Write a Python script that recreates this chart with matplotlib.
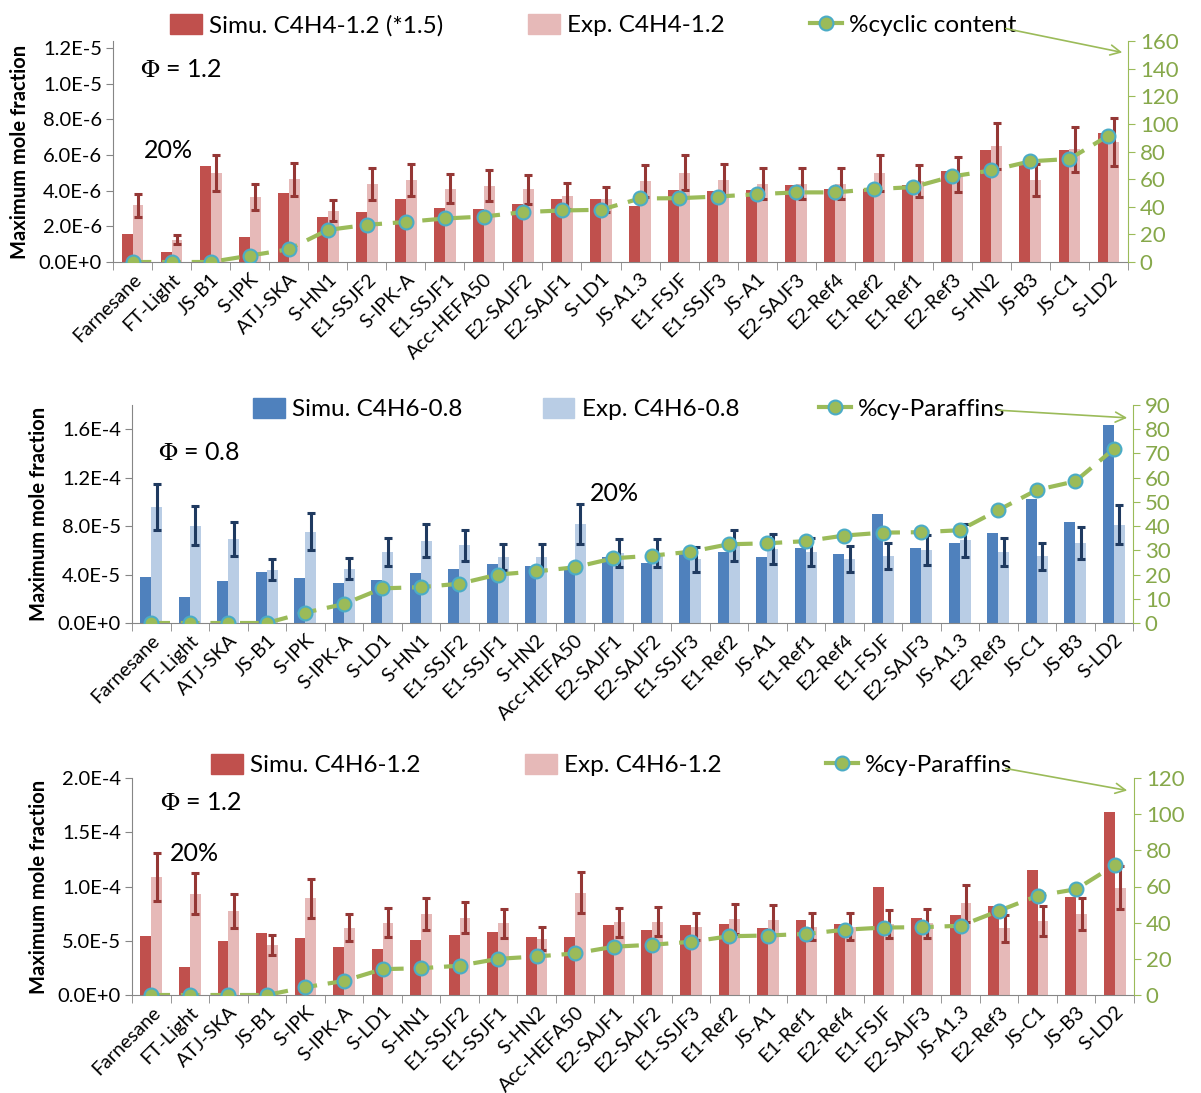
import math
import numpy as np
import matplotlib
matplotlib.use("Agg")
import matplotlib.pyplot as plt
from matplotlib.patches import Patch
from matplotlib.lines import Line2D
from matplotlib.ticker import FuncFormatter

plt.rcParams['font.family'] = ['Lato', 'DejaVu Sans']
plt.rcParams['mathtext.fontset'] = 'stix'

# fuel order, C4H4 panel
fuels_c4h4 = ["Farnesane", "FT-Light", "JS-B1", "S-IPK", "ATJ-SKA", "S-HN1", "E1-SSJF2",
              "S-IPK-A", "E1-SSJF1", "Acc-HEFA50", "E2-SAJF2", "E2-SAJF1", "S-LD1",
              "JS-A1.3", "E1-FSJF", "E1-SSJF3", "JS-A1", "E2-SAJF3", "E2-Ref4", "E1-Ref2",
              "E1-Ref1", "E2-Ref3", "S-HN2", "JS-B3", "JS-C1", "S-LD2"]
sim_c4h4 = np.array([1.57, 0.58, 5.38, 1.40, 3.85, 2.51, 2.81, 3.53, 3.02, 3.00, 3.28, 3.51, 3.51,
                     3.17, 4.04, 3.98, 4.04, 4.30, 4.08, 4.08, 4.34, 5.08, 6.26, 5.62, 6.26, 7.25]) * 1e-6
exp_c4h4 = np.array([3.19, 1.26, 5.01, 3.64, 4.63, 2.88, 4.38, 4.60, 4.11, 4.28, 4.07, 3.71, 3.51,
                     4.55, 5.02, 4.60, 4.40, 4.40, 4.40, 5.00, 4.54, 4.92, 6.51, 4.60, 6.33, 6.75]) * 1e-6
cyclic = [0, 0, 0, 4.6, 9.2, 23.2, 26.9, 29.0, 31.5, 32.9, 36.1, 37.3, 37.8,
          46.0, 46.2, 47.4, 49.1, 50.4, 50.4, 52.8, 54.2, 62.0, 66.3, 72.9, 74.6, 91.5]

# fuel order, C4H6 panels
fuels_c4h6 = ["Farnesane", "FT-Light", "ATJ-SKA", "JS-B1", "S-IPK", "S-IPK-A", "S-LD1", "S-HN1",
              "E1-SSJF2", "E1-SSJF1", "S-HN2", "Acc-HEFA50", "E2-SAJF1", "E2-SAJF2", "E1-SSJF3",
              "E1-Ref2", "JS-A1", "E1-Ref1", "E2-Ref4", "E1-FSJF", "E2-SAJF3", "JS-A1.3",
              "E2-Ref3", "JS-C1", "JS-B3", "S-LD2"]
cy_paraffins = [0, 0, 0, 0, 4.3, 7.8, 14.3, 14.8, 16.2, 20.0, 21.3, 23.0, 26.7,
                27.8, 29.4, 32.5, 32.9, 33.8, 36.1, 37.3, 37.5, 38.3, 46.6, 54.9, 58.5, 71.8]

sim_c4h6_08 = np.array([3.83, 2.18, 3.49, 4.22, 3.74, 3.32, 3.55, 4.16, 4.50, 4.89, 4.72, 4.44, 5.47,
                        4.97, 5.70, 5.84, 5.45, 6.20, 5.73, 9.02, 6.23, 6.59, 7.46, 10.25, 8.35, 16.34]) * 1e-5
exp_c4h6_08 = np.array([9.58, 8.04, 6.93, 4.39, 7.54, 4.50, 5.84, 6.79, 6.42, 5.42, 5.42, 8.18, 5.81,
                        5.81, 5.25, 6.40, 6.10, 5.87, 5.30, 5.53, 6.03, 6.83, 5.87, 5.50, 6.59, 8.12]) * 1e-5

sim_c4h6_12 = np.array([5.45, 2.55, 5.02, 5.69, 5.26, 4.46, 4.28, 5.05, 5.51, 5.78, 5.32, 5.38, 6.46,
                        5.97, 6.43, 6.52, 6.22, 6.89, 6.55, 9.94, 7.08, 7.35, 8.18, 11.54, 9.05, 16.86]) * 1e-5
exp_c4h6_12 = np.array([10.88, 9.34, 7.75, 4.58, 8.92, 6.22, 6.68, 7.48, 7.14, 6.62, 5.20, 9.42, 6.71,
                        6.77, 6.28, 7.02, 6.89, 6.31, 6.31, 6.54, 6.62, 8.46, 6.15, 6.83, 7.45, 9.88]) * 1e-5

err_frac = 0.20  # experimental uncertainty

RED, PINK, RED_ERR = "#C0504D", "#E6B9B8", "#953735"
BLUE, LBLUE, BLUE_ERR = "#4F81BD", "#B9CDE5", "#1F3A60"
GREEN, GREEN_TXT, CYAN = "#9BBB59", "#86A84A", "#4BACC6"
GRAY = "#868686"

W, H = 1201, 1093
fig = plt.figure(figsize=(W / 100, H / 100), dpi=100)


def sci(v, pos=None):
    if v == 0:
        return "0.0E+0"
    e = int(math.floor(math.log10(abs(v)) + 1e-9))
    m = round(v / 10 ** e, 6)
    return f"{m:.1f}E{e:+d}"


def box(x0, y0, x1, y1):
    # pixel box (top-left origin) -> figure fraction rect
    return [x0 / W, 1 - y1 / H, (x1 - x0) / W, (y1 - y0) / H]


def panel(rect, fuels, sim, exp, pct, c_sim, c_exp, c_err, ylim, yticks, rmax, rstep,
          labels, leg_xy, colsp, phi, phi_xy, pct_xy, arrow):
    ax = fig.add_axes(rect)
    x = np.arange(len(fuels))
    bw = 0.28
    ax.bar(x - bw / 2, sim, bw, color=c_sim, zorder=2)
    ax.bar(x + bw / 2, exp, bw, color=c_exp, zorder=2)
    ax.errorbar(x + bw / 2, exp, yerr=err_frac * exp, fmt="none", ecolor=c_err,
                elinewidth=2.2, capsize=3, capthick=2.2, zorder=3)
    ax.set_xlim(-0.5, len(fuels) - 0.5)
    ax.set_ylim(*ylim)
    ax.set_yticks(yticks)
    ax.yaxis.set_major_formatter(FuncFormatter(sci))
    ax.set_xticks(x)
    ax.set_xticklabels(fuels, rotation=45, ha="right", rotation_mode="anchor", fontsize=14)
    ax.set_xticks(np.arange(-0.5, len(fuels)), minor=True)
    ax.tick_params(axis="x", which="major", length=0, pad=6)
    ax.tick_params(axis="x", which="minor", length=6, color=GRAY, direction="out")
    ax.tick_params(axis="y", length=5, color=GRAY, labelsize=14.5, pad=3)
    for s in ("top", "right"):
        ax.spines[s].set_visible(False)
    for s in ("left", "bottom"):
        ax.spines[s].set_color(GRAY)
    ax.set_ylabel("Maximum mole fraction", fontsize=14.5, fontweight="bold", labelpad=6)

    ax2 = ax.twinx()
    ax2.plot(x, pct, ls=(0, (4.5, 2.6)), lw=3, color=GREEN, marker="o", ms=10,
             mfc=GREEN, mec=CYAN, mew=1.5, zorder=4)
    ax2.set_ylim(0, rmax)
    ax2.set_yticks(np.arange(0, rmax + 1, rstep))
    for s in ("top", "left", "bottom"):
        ax2.spines[s].set_visible(False)
    ax2.spines["right"].set_color(GREEN)
    ax2.tick_params(axis="y", colors=GREEN, labelcolor=GREEN_TXT, labelsize=16, length=5)

    handles = [Patch(color=c_sim), Patch(color=c_exp),
               Line2D([], [], ls="-", lw=3, color=GREEN, marker="o", ms=10,
                      mfc=GREEN, mec=CYAN, mew=1.5)]
    ax.legend(handles, labels, ncol=3, loc="center", bbox_to_anchor=leg_xy,
              bbox_transform=ax.transAxes, frameon=False, fontsize=17.5,
              columnspacing=colsp, handlelength=1.3, handleheight=0.9,
              handletextpad=0.3, borderpad=0)

    ax.text(phi_xy[0], phi_xy[1], phi, transform=ax.transAxes, fontsize=18,
            va="center", ha="left")
    ax.text(pct_xy[0], pct_xy[1], "20%", transform=ax.transAxes, fontsize=18,
            va="center", ha="left")
    (ax0, ay0), (ax1, ay1) = arrow
    fig.add_artist(matplotlib.patches.FancyArrowPatch(
        (ax0 / W, 1 - ay0 / H), (ax1 / W, 1 - ay1 / H), transform=fig.transFigure,
        arrowstyle="->", mutation_scale=18, color=GREEN, lw=1.2))
    return ax


panel(box(113, 41, 1128, 262), fuels_c4h4, sim_c4h4, exp_c4h4, cyclic, RED, PINK, RED_ERR,
      (0, 1.24e-5), np.arange(0, 1.21e-5, 2e-6), 160, 20,
      ["Simu. C4H4-1.2 (*1.5)", "Exp. C4H4-1.2", "%cyclic content"],
      (0.473, 1.072), 3.5, r"$\Phi$ = 1.2", (0.027, 0.869), (0.030, 0.505),
      ((1003, 28), (1125, 53)))

panel(box(132, 405, 1133, 623), fuels_c4h6, sim_c4h6_08, exp_c4h6_08, cy_paraffins, BLUE, LBLUE, BLUE_ERR,
      (0, 1.8e-4), np.arange(0, 1.61e-4, 4e-5), 90, 10,
      ["Simu. C4H6-0.8", "Exp. C4H6-0.8", "%cy-Paraffins"],
      (0.497, 0.981), 3.3, r"$\Phi$ = 0.8", (0.026, 0.784), (0.4575, 0.596),
      ((995, 410), (1130, 418)))

panel(box(132, 778, 1134, 995), fuels_c4h6, sim_c4h6_12, exp_c4h6_12, cy_paraffins, RED, PINK, RED_ERR,
      (0, 2.0e-4), np.arange(0, 2.01e-4, 5e-5), 120, 20,
      ["Simu. C4H6-1.2", "Exp. C4H6-1.2", "%cy-Paraffins"],
      (0.479, 1.06), 4.3, r"$\Phi$ = 1.2", (0.028, 0.885), (0.038, 0.654),
      ((1003, 768), (1130, 791)))

fig.savefig("out.png", dpi=100)
